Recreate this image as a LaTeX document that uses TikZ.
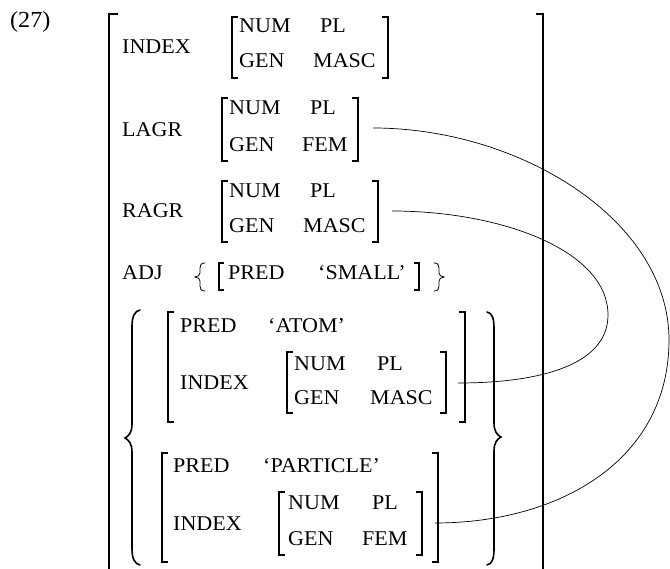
\documentclass[tikz,border=0pt]{standalone}
\usepackage{fontspec}
\setmainfont{Liberation Serif}[FakeStretch=1.05]
\tikzset{
  txt/.style={anchor=base west, inner sep=0pt, font=\fontsize{21}{25}\selectfont},
  brk/.style={line width=1.1pt, line join=miter},
  obrk/.style={line width=1.6pt, line join=miter},
  bbrace/.style={line width=1.6pt, line cap=round},
  sbrace/.style={line width=0.8pt, line cap=round},
  conn/.style={line width=0.7pt}
}
\newcommand{\LBr}[4][6]{\draw[brk] (#2+#1,#3) -- (#2,#3) -- (#2,#4) -- (#2+#1,#4);}
\newcommand{\RBr}[4][6]{\draw[brk] (#2-#1,#3) -- (#2,#3) -- (#2,#4) -- (#2-#1,#4);}
\begin{document}
\begin{tikzpicture}[x=1pt,y=-1pt]
\useasboundingbox (0,0) rectangle (670,569);
% example number
\node[txt,font=\fontsize{23}{27}\selectfont] (ex) at (10,28) {(27)};
% outer bracket
\draw[obrk] (118,14) -- (109,14) -- (109,569);
\draw[obrk] (536,14) -- (543,14) -- (543,569);
% row 1 INDEX
\node[txt] (idx1) at (122,54) {INDEX};
\node[txt] (num1) at (239,33) {NUM};
\node[txt] (pl1) at (320,33) {PL};
\node[txt] (gen1) at (239,68) {GEN};
\node[txt] (masc1) at (313,68) {MASC};
\LBr{232}{17}{78} \RBr{388}{17}{78}
% row 2 LAGR
\node[txt] (lagr) at (122,137) {LAGR};
\node[txt] (num2) at (229,115) {NUM};
\node[txt] (pl2) at (310,115) {PL};
\node[txt] (gen2) at (229,152) {GEN};
\node[txt] (fem2) at (302,152) {FEM};
\LBr{222}{98}{161} \RBr{358}{98}{161}
% row 3 RAGR
\node[txt] (ragr) at (122,218) {RAGR};
\node[txt] (num3) at (229,198) {NUM};
\node[txt] (pl3) at (310,198) {PL};
\node[txt] (gen3) at (229,233) {GEN};
\node[txt] (masc3) at (303,233) {MASC};
\LBr{222}{181}{242} \RBr{378}{181}{242}
% row 4 ADJ
\node[txt] (adj) at (122,280) {ADJ};
\node[txt] (pred0) at (228,280) {PRED};
\node[txt] (small) at (318,280) {‘SMALL’};
\LBr[5]{219}{263}{290} \RBr[5]{419}{263}{290}
\draw[sbrace] (205,263) .. controls (201,263) and (200,265) .. (200,268) -- (200,273) .. controls (200,275) and (198,277) .. (195,277) .. controls (198,277) and (200,279) .. (200,281) -- (200,286) .. controls (200,289) and (201,291) .. (205,291);
\draw[sbrace] (434,263) .. controls (438,263) and (439,265) .. (439,268) -- (439,273) .. controls (439,275) and (441,277) .. (444,277) .. controls (441,277) and (439,279) .. (439,281) -- (439,286) .. controls (439,289) and (438,291) .. (434,291);
% big braces
\draw[bbrace] (140,310) .. controls (135,311) and (132,316) .. (132,326) -- (132,424) .. controls (132,432) and (129,436) .. (125,438) .. controls (129,440) and (132,444) .. (132,452) -- (132,549) .. controls (132,559) and (135,564) .. (140,565);
\draw[bbrace] (487,312) .. controls (492,313) and (494,318) .. (494,328) -- (494,423) .. controls (494,431) and (497,435) .. (501,437) .. controls (497,439) and (494,443) .. (494,451) -- (494,549) .. controls (494,559) and (492,564) .. (487,565);
% ATOM
\node[txt] (pred1) at (180,333) {PRED};
\node[txt] (atom) at (268,333) {‘ATOM’};
\node[txt] (idx2) at (180,390) {INDEX};
\node[txt] (num4) at (294,371) {NUM};
\node[txt] (pl4) at (377,371) {PL};
\node[txt] (gen4) at (294,405) {GEN};
\node[txt] (masc4) at (370,405) {MASC};
\LBr{287}{352}{413} \RBr{446}{352}{413}
\LBr{168}{312}{422} \RBr{465}{312}{422}
% PARTICLE
\node[txt] (pred2) at (173,473) {PRED};
\node[txt] (part) at (263,473) {‘PARTICLE’};
\node[txt] (idx3) at (173,530) {INDEX};
\node[txt] (num5) at (288,510) {NUM};
\node[txt] (pl5) at (372,510) {PL};
\node[txt] (gen5) at (288,545) {GEN};
\node[txt] (fem5) at (362,545) {FEM};
\LBr{279}{492}{555} \RBr{422}{492}{555}
\LBr{162}{453}{562} \RBr{438}{453}{562}
% connectors
\coordinate (lagrEnd) at (373,128);
\coordinate (partEnd) at (435,523);
\coordinate (ragrEnd) at (392,211);
\coordinate (atomEnd) at (458,383);
\draw[conn] (lagrEnd) .. controls (520,128) and (669,220) .. (669,340) .. controls (669,460) and (560,523) .. (partEnd);
\draw[conn] (ragrEnd) .. controls (500,211) and (608,250) .. (608,315) .. controls (608,365) and (540,383) .. (atomEnd);
\end{tikzpicture}
\end{document}
